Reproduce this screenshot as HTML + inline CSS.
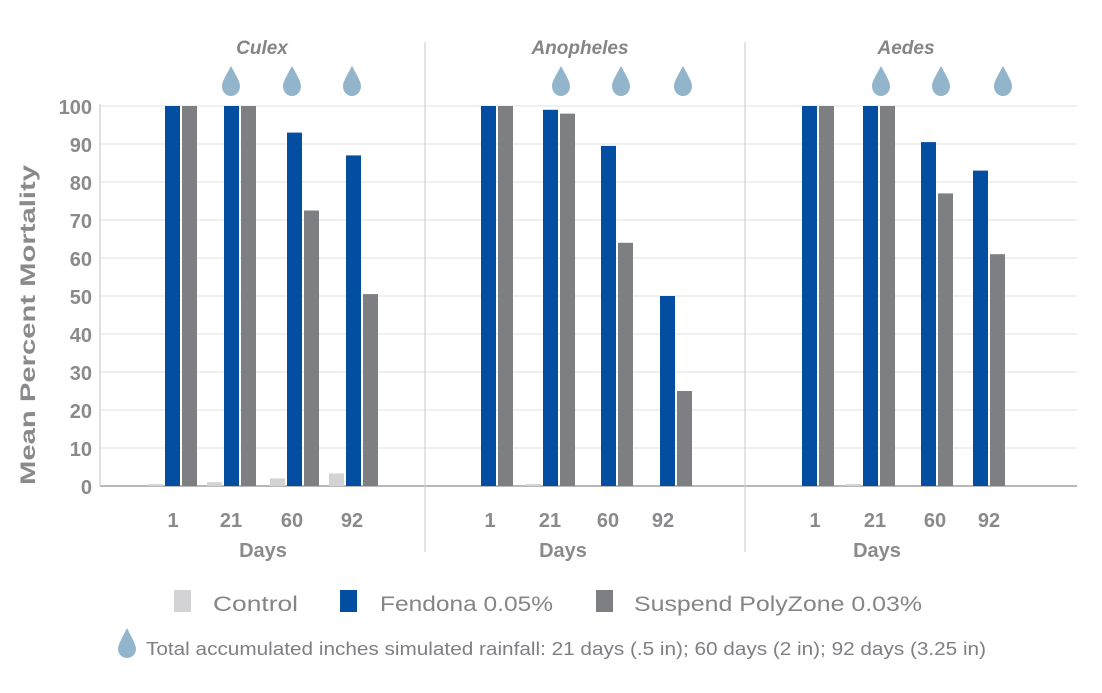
<!DOCTYPE html>
<html><head><meta charset="utf-8"><style>
body{margin:0;background:#fff;}
svg{display:block;font-family:"Liberation Sans",Arial,sans-serif;}
</style></head><body>
<svg id="s" width="1102" height="693" viewBox="0 0 1102 693" xmlns="http://www.w3.org/2000/svg">
<g id="grid" stroke="#ececec" stroke-width="1.5"></g>
<line x1="100" y1="486" x2="1077" y2="486" stroke="#b8b8b8" stroke-width="2"/>
<line x1="100" y1="104" x2="100" y2="486" stroke="#d6d6d6" stroke-width="1.5"/>
<line x1="425" y1="42" x2="425" y2="552" stroke="#d0d0d0" stroke-width="1.2"/>
<line x1="745" y1="42" x2="745" y2="552" stroke="#d0d0d0" stroke-width="1.2"/>
<g id="bars"></g>
<g id="drops" fill="#93b5cb"></g>
<g fill="#8a8a8c" font-size="20" font-weight="bold" text-anchor="end">
<text x="92" y="114">100</text><text x="92" y="152">90</text><text x="92" y="190">80</text><text x="92" y="228">70</text><text x="92" y="266">60</text><text x="92" y="304">50</text><text x="92" y="342">40</text><text x="92" y="380">30</text><text x="92" y="418">20</text><text x="92" y="456">10</text><text x="92" y="494">0</text>
</g>
<text transform="translate(35,325) rotate(-90)" text-anchor="middle" fill="#8a8a8c" font-size="21" font-weight="bold" textLength="320" lengthAdjust="spacingAndGlyphs">Mean Percent Mortality</text>
<g fill="#858587" font-size="19" font-weight="bold" font-style="italic" text-anchor="middle">
<text x="262" y="54">Culex</text><text x="580" y="54">Anopheles</text><text x="906" y="54">Aedes</text>
</g>
<g fill="#8a8a8c" font-size="20" font-weight="bold" text-anchor="middle">
<text x="173" y="527">1</text><text x="231" y="527">21</text><text x="292" y="527">60</text><text x="352" y="527">92</text>
<text x="490" y="527">1</text><text x="550" y="527">21</text><text x="608" y="527">60</text><text x="663" y="527">92</text>
<text x="815" y="527">1</text><text x="875" y="527">21</text><text x="935" y="527">60</text><text x="989" y="527">92</text>
<text x="263" y="557">Days</text><text x="563" y="557">Days</text><text x="877" y="557">Days</text>
</g>
<rect x="174" y="590" width="17" height="22" fill="#d3d3d5"/>
<text x="213" y="611" fill="#858587" font-size="21" textLength="85" lengthAdjust="spacingAndGlyphs">Control</text>
<rect x="340" y="590" width="17" height="22" fill="#034ea1"/>
<text x="380" y="611" fill="#858587" font-size="21" textLength="173" lengthAdjust="spacingAndGlyphs">Fendona 0.05%</text>
<rect x="596" y="590" width="17" height="22" fill="#7e7f83"/>
<text x="634" y="611" fill="#858587" font-size="21" textLength="288" lengthAdjust="spacingAndGlyphs">Suspend PolyZone 0.03%</text>
<path d="M127 628 C121 640 118 645 118 649 C118 654 122 658 127 658 C132 658 136 654 136 649 C136 645 133 640 127 628Z" fill="#93b5cb"/>
<text x="146" y="655" fill="#7e7f83" font-size="18" textLength="840" lengthAdjust="spacingAndGlyphs">Total accumulated inches simulated rainfall: 21 days (.5 in); 60 days (2 in); 92 days (3.25 in)</text>
</svg>
<script>
var ns="http://www.w3.org/2000/svg";
function y(v){return 486-3.8*v;}
var g=document.getElementById('grid');
for(var v=10;v<=100;v+=10){var l=document.createElementNS(ns,'line');l.setAttribute('x1',100);l.setAttribute('x2',1077);l.setAttribute('y1',y(v));l.setAttribute('y2',y(v));g.appendChild(l);}
var panels=[
 {blue:[165,224,287,346],data:[[0.5,100,100],[1,100,100],[2,93,72.5],[3.3,87,50.5]],drops:[231,292,352]},
 {blue:[481,543,601,660],data:[[0,100,100],[0.5,99,98],[0,89.5,64],[0,50,25]],drops:[561,621,683]},
 {blue:[802,863,921,973],data:[[0,100,100],[0.5,100,100],[0,90.5,77],[0,83,61]],drops:[881,941,1003]}
];
var b=document.getElementById('bars'),d=document.getElementById('drops');
function rect(x,v,c){if(v<=0)return;var r=document.createElementNS(ns,'rect');r.setAttribute('x',x);r.setAttribute('width',15);r.setAttribute('y',y(v));r.setAttribute('height',3.8*v);r.setAttribute('fill',c);b.appendChild(r);}
panels.forEach(function(p){p.blue.forEach(function(x,i){var dd=p.data[i];rect(x-17,dd[0],'#d3d3d5');rect(x,dd[1],'#034ea1');rect(x+17,dd[2],'#7e7f83');});
p.drops.forEach(function(x){var pa=document.createElementNS(ns,'path');pa.setAttribute('d','M'+x+' 66 C'+(x-6)+' 77 '+(x-9)+' 82 '+(x-9)+' 86 C'+(x-9)+' 92 '+(x-5)+' 96 '+x+' 96 C'+(x+5)+' 96 '+(x+9)+' 92 '+(x+9)+' 86 C'+(x+9)+' 82 '+(x+6)+' 77 '+x+' 66Z');d.appendChild(pa);});});
</script>
</body></html>
